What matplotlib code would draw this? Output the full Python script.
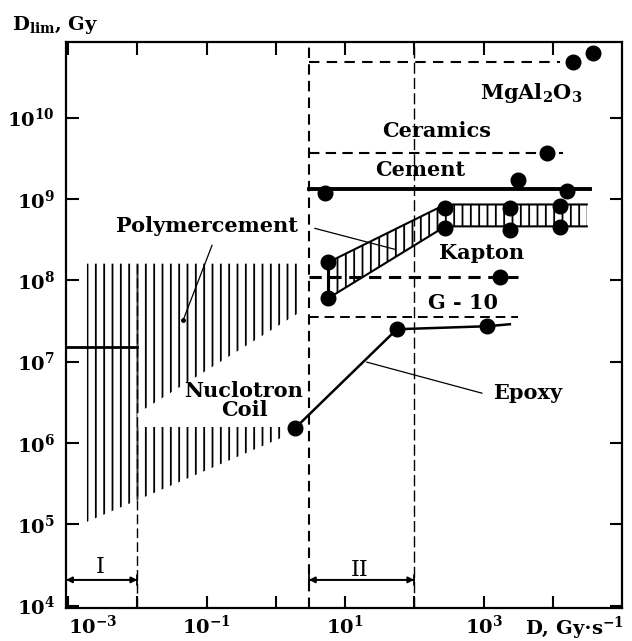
import matplotlib
matplotlib.use('Agg')
import matplotlib.pyplot as plt
from matplotlib.ticker import FixedLocator, NullLocator

plt.rcParams['font.family'] = ['DejaVu Serif']
plt.rcParams['font.weight'] = 'bold'
plt.rcParams['mathtext.fontset'] = 'dejavuserif'
plt.rcParams['hatch.linewidth'] = 1.3

# ---------------- data ----------------
x_limits = (10 ** -3.03, 10 ** 5.0)
y_limits = (10 ** 3.97, 10 ** 10.93)

x_tick_exps = [-3, -2, -1, 0, 1, 2, 3, 4]
x_label_exps = [-3, -1, 1, 3]
y_tick_exps = [4, 5, 6, 7, 8, 9, 10]

region_I_x = [10 ** -3.03, 1e-2]
region_II_x = [3.0, 1e2]
region_arrow_y = 2.07e4

# MgAl2O3
mgal_x = [1.95e4, 3.8e4]
mgal_y = [4.9e10, 6.3e10]
mgal_box_x = [3.0, 1.26e4]
mgal_box_y = 4.9e10

# Ceramics
ceramics_x = [3.0, 1.4e4]
ceramics_y = 3.7e9
ceramics_pt_x = [8.2e3]
ceramics_pt_y = [3.7e9]

# Cement
cement_x = [3.0, 3.4e4]
cement_y = 1.31e9
cement_pts_x = [5.1, 3.1e3, 1.6e4]
cement_pts_y = [1.17e9, 1.69e9, 1.27e9]

# Kapton band
kapton_band_x = [5.7, 280, 3.1e4]
kapton_band_lo = [6.0e7, 4.6e8, 4.6e8]
kapton_band_hi = [1.66e8, 8.55e8, 8.55e8]
kapton_pts_x = [5.7, 280, 2.4e3, 1.27e4]
kapton_pts_hi = [1.66e8, 7.85e8, 7.64e8, 8.3e8]
kapton_pts_lo = [6.0e7, 4.34e8, 4.1e8, 4.47e8]

# Kapton limit (dashed) and G-10
kapton_lim_x = [3.0, 3.1e3]
kapton_lim_y = 1.09e8
kapton_lim_pt_x = [1.73e3]
kapton_lim_pt_y = [1.09e8]
g10_x = [3.0, 3.1e3]
g10_y = 3.5e7

# Epoxy (Nuclotron coil)
epoxy_x = [1.9, 56, 1.12e3, 2.4e3]
epoxy_y = [1.52e6, 2.5e7, 2.72e7, 2.88e7]
epoxy_pts_x = [1.9, 56, 1.12e3]
epoxy_pts_y = [1.52e6, 2.5e7, 2.72e7]

# Region I level
region1_level_x = [10 ** -3.03, 1e-2]
region1_level_y = 1.52e7

# Polymercement hatched area
poly_top = 1.6e8
poly_A_x = [1.87e-3, 1e-2]
poly_A_lo = [1.07e5, 1.98e5]
poly_B_x = [1e-2, 2.23]
poly_B_lo = [2.3e6, 4.05e7]
poly_C_x = [1e-2, 1.27]
poly_C_lo = [1.98e5, 1.18e6]
poly_C_top = 1.57e6

# annotation leader lines
poly_lead1_x = [0.12, 0.0458]
poly_lead1_y = [2.69e8, 3.22e7]
poly_lead2_x = [3.67, 52.6]
poly_lead2_y = [4.35e8, 2.4e8]
epoxy_lead_x = [20.7, 948]
epoxy_lead_y = [9.84e6, 4.09e6]

# ---------------- figure ----------------
fig = plt.figure(figsize=(6.32, 6.41), dpi=100)
ax = fig.add_axes([66 / 632, 1 - 608 / 641, (622 - 66) / 632, (608 - 42) / 641])
ax.set_xscale('log')
ax.set_yscale('log')
ax.set_xlim(*x_limits)
ax.set_ylim(*y_limits)

ms = 10.5
dot = dict(marker='o', ms=ms, color='black', ls='none', zorder=5)

# Polymercement hatch
hk = dict(facecolor='none', edgecolor='black', hatch='||', linewidth=0)
ax.fill_between(poly_A_x, poly_A_lo, [poly_top] * 2, **hk)
ax.fill_between(poly_B_x, poly_B_lo, [poly_top] * 2, **hk)
ax.fill_between(poly_C_x, poly_C_lo, [poly_C_top] * 2, **hk)

# Region boundaries
ax.plot([region_bounds := 1e-2, 1e-2], [poly_top, y_limits[0]], color='black', lw=1.0,
        ls=(0, (7, 3)))
ax.axvline(3.0, color='black', lw=1.5, ls=(0, (5, 3)))
ax.axvline(1e2, color='black', lw=1.0, ls=(0, (8, 3)))

# region I level
ax.plot(region1_level_x, [region1_level_y] * 2, color='black', lw=2)

# MgAl2O3 box
ax.plot(mgal_box_x, [mgal_box_y] * 2, color='black', lw=1.5, ls=(0, (5, 3.5)))
ax.plot(mgal_x, mgal_y, **dot)

# Ceramics
ax.plot(ceramics_x, [ceramics_y] * 2, color='black', lw=1.5, ls=(0, (5, 3)))
ax.plot(ceramics_pt_x, ceramics_pt_y, **dot)

# Cement
ax.plot(cement_x, [cement_y] * 2, color='black', lw=2.8)
ax.plot(cement_pts_x, cement_pts_y, **dot)

# Kapton band
ax.fill_between(kapton_band_x, kapton_band_lo, kapton_band_hi, **hk)
ax.plot(kapton_band_x, kapton_band_lo, color='black', lw=1.5)
ax.plot(kapton_band_x, kapton_band_hi, color='black', lw=1.5)
ax.plot([kapton_band_x[0]] * 2, [kapton_band_lo[0], kapton_band_hi[0]], color='black', lw=1.5)
ax.plot(kapton_pts_x, kapton_pts_hi, **dot)
ax.plot(kapton_pts_x, kapton_pts_lo, **dot)

# Kapton limit, G-10
ax.plot(kapton_lim_x, [kapton_lim_y] * 2, color='black', lw=2.2, ls=(0, (4, 2.5)))
ax.plot(kapton_lim_pt_x, kapton_lim_pt_y, **dot)
ax.plot(g10_x, [g10_y] * 2, color='black', lw=1.4, ls=(0, (5, 3)))

# Epoxy
ax.plot(epoxy_x, epoxy_y, color='black', lw=1.8)
ax.plot(epoxy_pts_x, epoxy_pts_y, **dot)

# leader lines
ax.plot(poly_lead1_x, poly_lead1_y, color='black', lw=0.9)
ax.plot(poly_lead1_x[1:], poly_lead1_y[1:], marker='o', ms=2.5, color='black', ls='none')
ax.plot(poly_lead2_x, poly_lead2_y, color='black', lw=0.9)
ax.plot(epoxy_lead_x, epoxy_lead_y, color='black', lw=0.9)

# region arrows
for (xa, xb) in (region_I_x, region_II_x):
    ax.annotate('', xy=(xb, region_arrow_y), xytext=(xa, region_arrow_y),
                arrowprops=dict(arrowstyle='<|-|>', color='black', lw=1.3,
                                mutation_scale=9, shrinkA=0, shrinkB=0))
    ax.annotate('', xy=(xb, region_arrow_y), xytext=(xa, region_arrow_y),
                arrowprops=dict(arrowstyle='|-|,widthA=0.35,widthB=0.35', color='black', lw=1.3,
                                shrinkA=0, shrinkB=0))

# texts
tk = dict(fontsize=15, fontweight='bold', ha='center', va='center')
ax.text(0.101, 4.6e8, 'Polymercement', **tk)
ax.text(948, 2.14e8, 'Kapton', **tk)
ax.text(505, 5.2e7, 'G - 10', **tk)
ax.text(4.39e3, 4.09e6, 'Epoxy', **tk)
ax.text(0.348, 3.36e6, 'Nuclotron\nCoil', linespacing=0.95, **tk)
ax.text(4.84e3, 2.03e10, r'MgAl$_\mathbf{2}$O$_\mathbf{3}$', **tk)
ax.text(212, 6.93e9, 'Ceramics', **tk)
ax.text(121, 2.24e9, 'Cement', **tk)
ax.text(2.89e-3, 2.99e4, 'I', fontsize=16, fontweight='normal', ha='center', va='center')
ax.text(16.4, 2.75e4, 'II', fontsize=16, fontweight='normal', ha='center', va='center')

# axes styling
for s in ax.spines.values():
    s.set_linewidth(1.6)
ax.xaxis.set_major_locator(FixedLocator([10.0 ** k for k in x_tick_exps]))
ax.yaxis.set_major_locator(FixedLocator([10.0 ** k for k in y_tick_exps]))
ax.xaxis.set_minor_locator(NullLocator())
ax.yaxis.set_minor_locator(NullLocator())
ax.set_xticklabels([r'$\mathbf{10^{%d}}$' % k if k in x_label_exps else '' for k in x_tick_exps])
ax.set_yticklabels([r'$\mathbf{10^{%d}}$' % k for k in y_tick_exps])
ax.tick_params(which='major', direction='in', length=9, width=1.5, top=True, right=True,
               labelsize=14)
ax.tick_params(axis='y', pad=8)
ax.tick_params(axis='x', pad=5)
ax.get_xticklabels()[0].set_ha('left')

fig.text(12 / 632, 1 - 25 / 641, r'D$_{\mathrm{lim}}$, Gy', fontsize=14, fontweight='bold',
         ha='left', va='center')
fig.text(525 / 632, 1 - 628 / 641, r'D, Gy$\cdot$s$^{\mathbf{-1}}$', fontsize=14,
         fontweight='bold', ha='left', va='center')

fig.savefig('out.png', dpi=100)
